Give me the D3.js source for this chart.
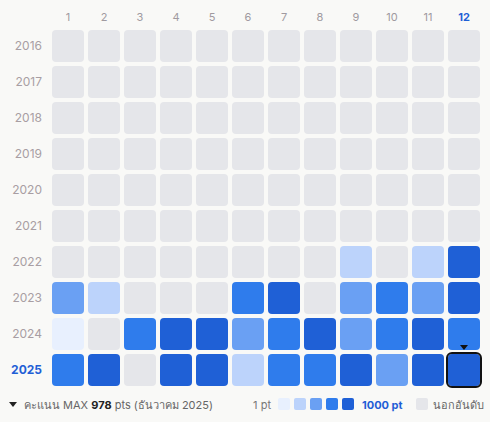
<!DOCTYPE html>
<html><head><meta charset="utf-8">
<script src="https://cdn.jsdelivr.net/npm/d3@7"></script>
<style>body{margin:0;background:#f9f9f7;font-family:Inter,"Noto Sans",sans-serif;}</style>
</head><body><svg id="c" width="490" height="422"></svg>
<script>
const months = [1,2,3,4,5,6,7,8,9,10,11,12];
const years = [2016,2017,2018,2019,2020,2021,2022,2023,2024,2025];
// level per cell (0 = unranked, 1..5 = score bucket)
const levels2016 = [0,0,0,0,0,0,0,0,0,0,0,0];
const levels2017 = [0,0,0,0,0,0,0,0,0,0,0,0];
const levels2018 = [0,0,0,0,0,0,0,0,0,0,0,0];
const levels2019 = [0,0,0,0,0,0,0,0,0,0,0,0];
const levels2020 = [0,0,0,0,0,0,0,0,0,0,0,0];
const levels2021 = [0,0,0,0,0,0,0,0,0,0,0,0];
const levels2022 = [0,0,0,0,0,0,0,0,2,0,2,5];
const levels2023 = [3,2,0,0,0,4,5,0,3,4,3,5];
const levels2024 = [1,0,4,5,5,3,4,5,3,4,5,4];
const levels2025 = [4,5,0,5,5,2,4,4,5,3,5,5];
const allLevels = [levels2016,levels2017,levels2018,levels2019,levels2020,levels2021,levels2022,levels2023,levels2024,levels2025];
const palette = ["#e5e6ea","#e8f0fe","#bcd3fb","#6aa0f3","#2f7cec","#1f60d6"];
const selYear = 2025, selMonth = 12;

const svg = d3.select("#c");
const x = d3.scaleBand().domain(months).range([50,482]).paddingInner(4/36).paddingOuter(2/36);
const y = d3.scaleBand().domain(years).range([28,388]).paddingInner(4/36).paddingOuter(2/36);

svg.selectAll(".m").data(months).enter().append("text")
  .attr("x", d => x(d) + x.bandwidth()/2).attr("y", 21).attr("text-anchor","middle")
  .style("font-size","11px")
  .style("font-weight", d => d === selMonth ? "700" : "400")
  .attr("fill", d => d === selMonth ? "#1f5fd6" : "#a09aa0").text(d => d);

svg.selectAll(".y").data(years).enter().append("text")
  .attr("x", 42).attr("y", d => y(d) + y.bandwidth()/2 + 4).attr("text-anchor","end")
  .style("font-size","12px")
  .style("font-weight", d => d === selYear ? "700" : "400")
  .attr("fill", d => d === selYear ? "#1f5fd6" : "#a89ea3").text(d => d);

const cells = [];
years.forEach((yr,i) => months.forEach((m,j) => cells.push({yr, m, v: allLevels[i][j]})));
svg.selectAll(".cell").data(cells).enter().append("rect")
  .attr("x", d => x(d.m)).attr("y", d => y(d.yr))
  .attr("width", x.bandwidth()).attr("height", y.bandwidth())
  .attr("rx", 4).attr("fill", d => palette[d.v]);

// selected cell
const sx = x(selMonth), sy = y(selYear), bw = x.bandwidth();
svg.append("rect").attr("x", sx-1).attr("y", sy-1).attr("width", bw+2).attr("height", bw+2)
  .attr("rx", 5).attr("fill","none").attr("stroke","#111").attr("stroke-width",2);
svg.append("path").attr("d", `M${sx+bw/2-4},${sy-9}L${sx+bw/2+4},${sy-9}L${sx+bw/2},${sy-4}Z`).attr("fill","#111");

// footer
const fy = 409;
svg.append("path").attr("d", `M9,${fy-7}L17,${fy-7}L13,${fy-2}Z`).attr("fill","#222");
const t = svg.append("text").attr("x", 24).attr("y", fy).style("font-size","11px").attr("fill","#666");
t.append("tspan").text("คะแนน MAX ");
t.append("tspan").attr("fill","#222").style("font-weight","700").text("978");
t.append("tspan").text(" pts (ธันวาคม 2025)");

svg.append("text").attr("x", 271).attr("y", fy).attr("text-anchor","end").style("font-size","11px").attr("fill","#777").text("1 pt");
svg.selectAll(".lg").data([1,2,3,4,5]).enter().append("rect")
  .attr("x", (d,i) => 278 + i*16).attr("y", fy-11).attr("width",12).attr("height",12).attr("rx",2)
  .attr("fill", d => palette[d]);
svg.append("text").attr("x", 362).attr("y", fy).style("font-size","11px").style("font-weight","700").attr("fill","#1f5fd6").text("1000 pt");
svg.append("rect").attr("x", 416).attr("y", fy-11).attr("width",12).attr("height",12).attr("rx",2).attr("fill", palette[0]);
svg.append("text").attr("x", 433).attr("y", fy).style("font-size","11px").attr("fill","#666").text("นอกอันดับ");
</script></body></html>
